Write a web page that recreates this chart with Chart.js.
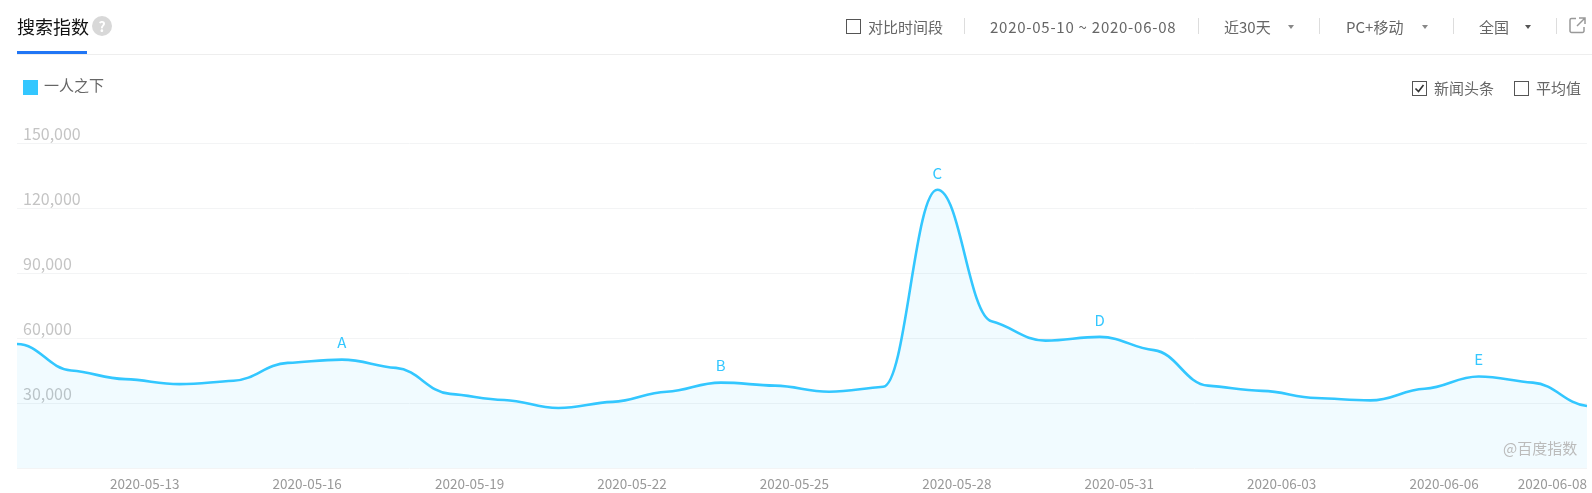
<!DOCTYPE html>
<html><head><meta charset="utf-8">
<script src="https://cdn.jsdelivr.net/npm/chart.js@4"></script>
<style>
html,body{margin:0;padding:0;background:#fff;width:1592px;height:493px;overflow:hidden}
body{position:relative;font-family:"Noto Sans CJK SC","Open Sans",sans-serif;color:#666}
canvas{position:absolute;left:0;top:0}
.a{position:absolute;white-space:nowrap;line-height:20px;font-size:15px}
.box{position:absolute;width:13px;height:13px;border:1px solid #555;background:#fff;box-sizing:content-box}
.sep{position:absolute;width:1px;height:16px;top:18px;background:#ddd}
.arrow{position:absolute;top:25px;width:0;height:0;border-left:3px solid transparent;border-right:3px solid transparent;border-top:4px solid #888}
</style></head><body>
<canvas id="c" width="1592" height="493"></canvas>
<div class="a" style="left:17px;top:15px;font-size:18px;line-height:22px;color:#111">搜索指数</div>
<div class="a" style="left:92px;top:16px;width:20px;height:20px;border-radius:50%;background:#d8d8d8;color:#fff;text-align:center;font-weight:700;font-size:14px">?</div>
<div style="position:absolute;left:17px;right:0;top:54px;height:1px;background:#eee"></div>
<div style="position:absolute;left:17px;width:70px;top:51px;height:3px;background:#2176f5"></div>
<div class="box" style="left:846px;top:19px"></div>
<div class="a" style="left:868px;top:17px">对比时间段</div>
<div class="sep" style="left:964px"></div>
<div class="a" style="left:990px;top:17px;letter-spacing:.75px">2020-05-10 ~ 2020-06-08</div>
<div class="sep" style="left:1198px"></div>
<div class="a" style="left:1224px;top:17px">近30天</div>
<div class="arrow" style="left:1288px"></div>
<div class="sep" style="left:1319px"></div>
<div class="a" style="left:1346px;top:17px">PC+移动</div>
<div class="arrow" style="left:1422px"></div>
<div class="sep" style="left:1453px"></div>
<div class="a" style="left:1479px;top:17px">全国</div>
<div class="arrow" style="left:1525px;border-top-color:#555"></div>
<div class="sep" style="left:1556px"></div>
<svg style="position:absolute;left:1569px;top:17px" width="17" height="17" viewBox="0 0 17 17" fill="none" stroke="#999" stroke-width="1.5"><path d="M7 1.5H2.5a1.5 1.5 0 0 0-1.5 1.5v11a1.5 1.5 0 0 0 1.5 1.5h11a1.5 1.5 0 0 0 1.5-1.5V10M10 1h6v6M16 1L8 9"/></svg>
<div style="position:absolute;left:23px;top:80px;width:15px;height:15px;background:#33c7ff"></div>
<div class="a" id="lg" style="left:44px;top:75px"></div>
<div class="box" style="left:1412px;top:81px"></div>
<svg style="position:absolute;left:1412px;top:81px" width="15" height="15" viewBox="0 0 15 15" fill="none" stroke="#333" stroke-width="1.6"><path d="M3.5 7.5l3 3 5-6.5"/></svg>
<div class="a" style="left:1434px;top:78px">新闻头条</div>
<div class="box" style="left:1514px;top:81px"></div>
<div class="a" style="left:1536px;top:78px">平均值</div>
<div class="a" style="left:1503px;top:438px;color:#bbb">@百度指数</div>
<script>
const seriesName = "一人之下";
const categories = ["2020-05-10","2020-05-11","2020-05-12","2020-05-13","2020-05-14","2020-05-15","2020-05-16","2020-05-17","2020-05-18","2020-05-19","2020-05-20","2020-05-21","2020-05-22","2020-05-23","2020-05-24","2020-05-25","2020-05-26","2020-05-27","2020-05-28","2020-05-29","2020-05-30","2020-05-31","2020-06-01","2020-06-02","2020-06-03","2020-06-04","2020-06-05","2020-06-06","2020-06-07","2020-06-08"];
const values = [57200,45000,41000,38700,40300,48500,50000,46200,34200,31400,27700,30500,35200,39400,38000,35200,37500,128400,67700,58800,60500,54400,38000,35600,32300,31200,36600,42200,39400,28600];
const shownDates = ["2020-05-13","2020-05-16","2020-05-19","2020-05-22","2020-05-25","2020-05-28","2020-05-31","2020-06-03","2020-06-06","2020-06-08"];
const yTicks = [0,30000,60000,90000,120000,150000];
const newsDates = ["2020-05-16","2020-05-23","2020-05-27","2020-05-30","2020-06-06"];
const newsLetters = ["A","B","C","D","E"];
document.getElementById('lg').textContent = seriesName;
const FONT = '"Noto Sans CJK SC","Open Sans",sans-serif';
/* Flatten the spline handles at each day so the curve eases through every knot */
const easePlugin = {
  id:'ease',
  afterDatasetsUpdate(chart){
    const meta=chart.getDatasetMeta(0), pts=meta.data;
    meta.dataset.updateControlPoints(chart.chartArea,'x');
    pts.forEach((p,i)=>{
      const prev=pts[i-1], next=pts[i+1];
      if(prev){p.cp1x=p.x-(p.x-prev.x)*0.42;p.cp1y=p.y+(p.cp1y-p.y)*0.3;}
      if(next){p.cp2x=p.x+(next.x-p.x)*0.42;p.cp2y=p.y+(p.cp2y-p.y)*0.3;}
    });
    if(pts[0]) pts[0].cp2y=pts[0].y;
  }
};
const newsPlugin = {
  id:'news',
  afterDatasetsDraw(chart){
    const ctx=chart.ctx, meta=chart.getDatasetMeta(0);
    ctx.save();
    ctx.fillStyle='#33c7ff';ctx.font='15px '+FONT;ctx.textAlign='center';ctx.textBaseline='middle';
    newsDates.forEach((d,i)=>{
      const p=meta.data[categories.indexOf(d)];
      ctx.fillText(newsLetters[i],p.x,p.y-17);
    });
    ctx.restore();
  }
};
new Chart(document.getElementById('c'),{
  type:'line',
  plugins:[easePlugin,newsPlugin],
  data:{labels:categories,datasets:[{
    label:seriesName,data:values,borderColor:'#33c7ff',borderWidth:2.6,
    backgroundColor:'rgba(51,199,255,0.07)',fill:'origin',pointRadius:0,
    cubicInterpolationMode:'monotone'
  }]},
  options:{
    responsive:false,animation:false,
    layout:{padding:{left:17,right:5,top:143,bottom:0}},
    plugins:{legend:{display:false},tooltip:{enabled:false}},
    scales:{
      x:{type:'category',offset:false,
        afterFit(s){s.height=25;s.paddingLeft=0;s.paddingRight=0;},
        grid:{display:false},border:{display:false},
        ticks:{autoSkip:false,maxRotation:0,minRotation:0,align:'end',color:'#999',padding:0,
          font:{size:13.5,family:FONT},
          callback(v){const l=this.getLabelForValue(v);return shownDates.includes(l)?l:'';}}
      },
      y:{min:0,max:150000,
        afterFit(s){s.width=0;},
        afterBuildTicks(s){s.ticks=yTicks.map(v=>({value:v}));},
        grid:{color:'#f3f4f5',lineWidth:1,drawTicks:false},border:{display:false},
        ticks:{mirror:true,padding:6,labelOffset:-9,color:'#c4c4c4',font:{size:16,family:FONT},
          callback(v){return v===0?'':v.toLocaleString('en-US');}}
      }
    }
  }
});
</script>
</body></html>
